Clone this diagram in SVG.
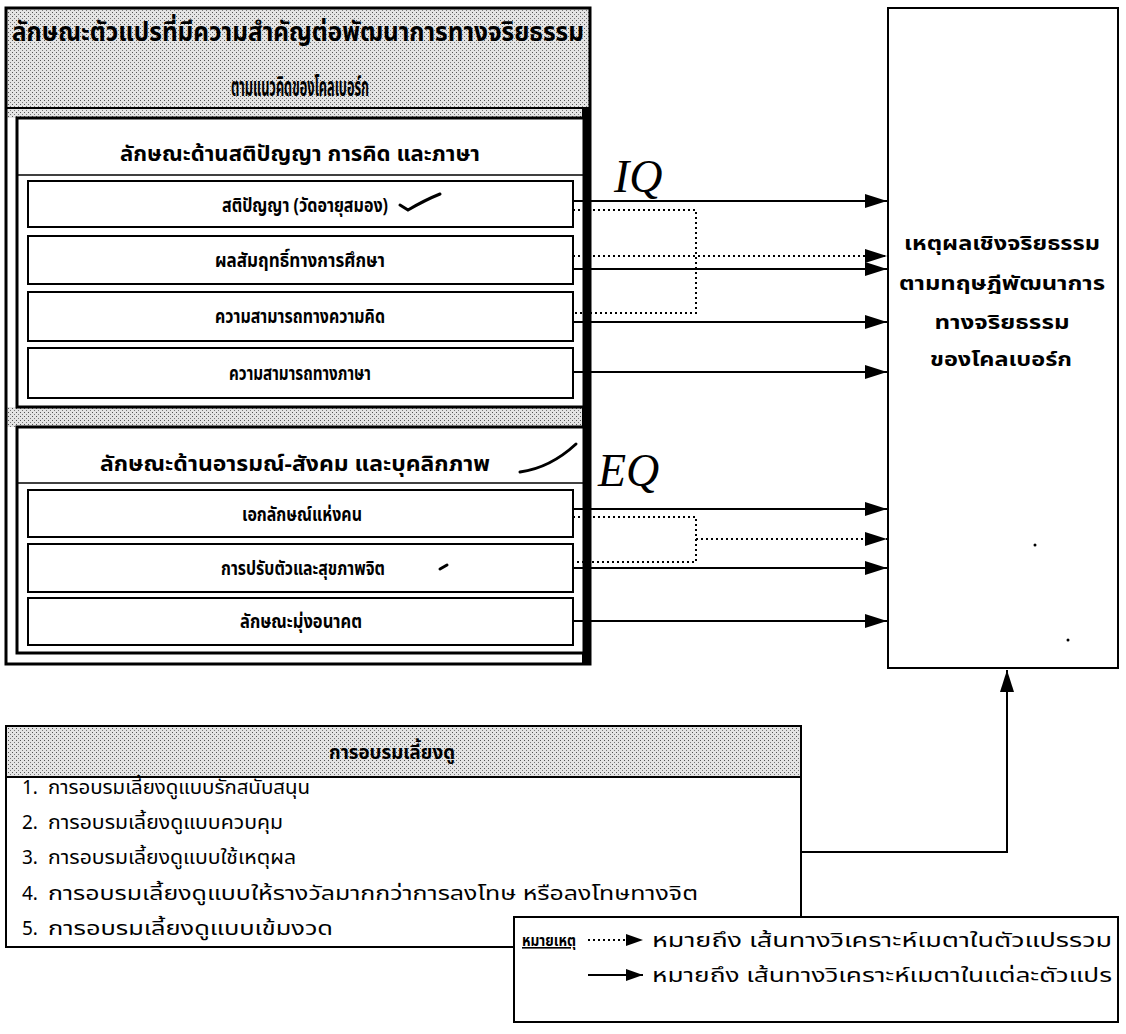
<svg xmlns="http://www.w3.org/2000/svg" width="1126" height="1034" viewBox="0 0 1126 1034">
<defs>
<pattern id="dots" width="4" height="4" patternUnits="userSpaceOnUse">
<rect width="4" height="4" fill="#e4e4e4"/>
<rect x="0" y="0" width="1" height="1" fill="#555"/>
<rect x="2" y="2" width="1" height="1" fill="#777"/>
</pattern>
<marker id="arr" markerWidth="22" markerHeight="14" refX="22" refY="7" orient="auto" markerUnits="userSpaceOnUse">
<path d="M0,0 L22,7 L0,14 Z" fill="#000"/>
</marker>
<marker id="arrs" markerWidth="17" markerHeight="12" refX="17" refY="6" orient="auto" markerUnits="userSpaceOnUse">
<path d="M0,0 L17,6 L0,12 Z" fill="#000"/>
</marker>
<style>
text{font-family:"Noto Sans Thai","Tlwg Typo","Garuda","Loma","Noto Sans",sans-serif;fill:#000;}
.t{font-weight:bold;text-anchor:middle;}
.s{font-weight:bold;text-anchor:middle;font-size:19px;}
.box{fill:#fff;stroke:#000;stroke-width:2;}
.sec{fill:#fff;stroke:#000;stroke-width:3;}
.sol{stroke:#000;stroke-width:2;fill:none;}
.dot{stroke:#000;stroke-width:2;fill:none;stroke-dasharray:2 3;}
.hand{font-family:"Liberation Serif",serif;font-style:italic;font-size:46px;}
.ink{stroke:#000;stroke-width:3;fill:none;stroke-linecap:round;}
.item{font-size:19px;}
.r{font-weight:bold;text-anchor:middle;font-size:20px;}
</style>
</defs>
<rect width="1126" height="1034" fill="#fff"/>

<g id="variables-frame">
<rect x="6" y="8" width="584" height="100" fill="url(#dots)"/>
<rect x="6" y="108" width="584" height="10" fill="url(#dots)"/>
<rect x="6" y="407" width="584" height="20" fill="url(#dots)"/>
<rect x="6" y="8" width="584" height="656" fill="none" stroke="#000" stroke-width="3"/>
<line x1="6" y1="108" x2="590" y2="108" stroke="#000" stroke-width="2"/>
<line x1="586" y1="108" x2="586" y2="664" stroke="#000" stroke-width="8"/>
<text class="t" x="298" y="41" font-size="26" textLength="572" lengthAdjust="spacingAndGlyphs">ลักษณะตัวแปรที่มีความสำคัญต่อพัฒนาการทางจริยธรรม</text>
<text class="t" x="300" y="96" font-size="26" textLength="138" lengthAdjust="spacingAndGlyphs">ตามแนวคิดของโคลเบอร์ก</text>
</g>

<g id="iq-group">
<rect class="sec" x="17" y="118" width="567" height="289"/>
<line x1="17" y1="175" x2="584" y2="175" stroke="#000" stroke-width="1.5"/>
<text class="t" x="300" y="161" font-size="22" textLength="360" lengthAdjust="spacingAndGlyphs">ลักษณะด้านสติปัญญา การคิด และภาษา</text>
</g>
<g id="iq1"><rect class="box" x="28" y="181" width="545" height="46"/><text class="s" x="305" y="212" textLength="166" lengthAdjust="spacingAndGlyphs">สติปัญญา (วัดอายุสมอง)</text></g>
<g id="iq2"><rect class="box" x="28" y="236" width="545" height="48"/><text class="s" x="300" y="267" textLength="170" lengthAdjust="spacingAndGlyphs">ผลสัมฤทธิ์ทางการศึกษา</text></g>
<g id="iq3"><rect class="box" x="28" y="292" width="545" height="49"/><text class="s" x="300" y="323" textLength="170" lengthAdjust="spacingAndGlyphs">ความสามารถทางความคิด</text></g>
<g id="iq4"><rect class="box" x="28" y="348" width="545" height="50"/><text class="s" x="300" y="380" textLength="142" lengthAdjust="spacingAndGlyphs">ความสามารถทางภาษา</text></g>

<g id="eq-group">
<rect class="sec" x="17" y="427" width="567" height="226"/>
<line x1="17" y1="483" x2="584" y2="483" stroke="#000" stroke-width="1.5"/>
<text class="t" x="295" y="471" font-size="22" textLength="390" lengthAdjust="spacingAndGlyphs">ลักษณะด้านอารมณ์-สังคม และบุคลิกภาพ</text>
</g>
<g id="eq1"><rect class="box" x="28" y="490" width="545" height="47"/><text class="s" x="302" y="521" textLength="120" lengthAdjust="spacingAndGlyphs">เอกลักษณ์แห่งคน</text></g>
<g id="eq2"><rect class="box" x="28" y="544" width="545" height="48"/><text class="s" x="303" y="575" textLength="164" lengthAdjust="spacingAndGlyphs">การปรับตัวและสุขภาพจิต</text></g>
<g id="eq3"><rect class="box" x="28" y="598" width="545" height="47"/><text class="s" x="301" y="628" textLength="122" lengthAdjust="spacingAndGlyphs">ลักษณะมุ่งอนาคต</text></g>

<g id="moral-reasoning">
<rect x="888" y="8" width="230" height="660" fill="#fff" stroke="#000" stroke-width="2"/>
<text class="r" x="1002" y="250" textLength="196" lengthAdjust="spacingAndGlyphs">เหตุผลเชิงจริยธรรม</text>
<text class="r" x="1002" y="290" textLength="206" lengthAdjust="spacingAndGlyphs">ตามทฤษฎีพัฒนาการ</text>
<text class="r" x="1002" y="329" textLength="135" lengthAdjust="spacingAndGlyphs">ทางจริยธรรม</text>
<text class="r" x="1001" y="366" textLength="142" lengthAdjust="spacingAndGlyphs">ของโคลเบอร์ก</text>
<circle cx="1035" cy="545" r="1.5" fill="#000"/>
<circle cx="1068" cy="640" r="1.5" fill="#000"/>
</g>

<g id="parenting">
<rect x="6" y="726" width="795" height="221" fill="#fff" stroke="#000" stroke-width="2"/>
<rect x="7" y="727" width="793" height="50" fill="url(#dots)"/>
<line x1="6" y1="777" x2="801" y2="777" stroke="#000" stroke-width="2"/>
<text class="t" x="392" y="759" font-size="20" textLength="126" lengthAdjust="spacingAndGlyphs">การอบรมเลี้ยงดู</text>
<text class="item" x="22" y="794">1.</text><text class="item" x="48" y="794" textLength="262" lengthAdjust="spacingAndGlyphs">การอบรมเลี้ยงดูแบบรักสนับสนุน</text>
<text class="item" x="22" y="829">2.</text><text class="item" x="48" y="829" textLength="235" lengthAdjust="spacingAndGlyphs">การอบรมเลี้ยงดูแบบควบคุม</text>
<text class="item" x="22" y="864">3.</text><text class="item" x="48" y="864" textLength="248" lengthAdjust="spacingAndGlyphs">การอบรมเลี้ยงดูแบบใช้เหตุผล</text>
<text class="item" x="22" y="900">4.</text><text class="item" x="48" y="900" textLength="650" lengthAdjust="spacingAndGlyphs">การอบรมเลี้ยงดูแบบให้รางวัลมากกว่าการลงโทษ หรือลงโทษทางจิต</text>
<text class="item" x="22" y="935">5.</text><text class="item" x="48" y="935" textLength="285" lengthAdjust="spacingAndGlyphs">การอบรมเลี้ยงดูแบบเข้มงวด</text>
</g>

<g id="connectors">
<line class="sol" x1="573" y1="201" x2="887" y2="201" marker-end="url(#arr)"/>
<polyline class="dot" points="573,210 696,210 696,313 573,313"/>
<line class="dot" x1="573" y1="256" x2="887" y2="256" marker-end="url(#arr)"/>
<line class="sol" x1="573" y1="269" x2="887" y2="269" marker-end="url(#arr)"/>
<line class="sol" x1="573" y1="322" x2="887" y2="322" marker-end="url(#arr)"/>
<line class="sol" x1="573" y1="372" x2="887" y2="372" marker-end="url(#arr)"/>
<line class="sol" x1="573" y1="509" x2="887" y2="509" marker-end="url(#arr)"/>
<polyline class="dot" points="573,517 696,517 696,562 573,562"/>
<line class="dot" x1="696" y1="539" x2="887" y2="539" marker-end="url(#arr)"/>
<line class="sol" x1="573" y1="568" x2="887" y2="568" marker-end="url(#arr)"/>
<line class="sol" x1="573" y1="621" x2="887" y2="621" marker-end="url(#arr)"/>
<polyline class="sol" points="801,852 1007,852 1007,670" marker-end="url(#arr)"/>
</g>

<g id="legend">
<rect x="514" y="917" width="604" height="105" fill="#fff" stroke="#000" stroke-width="2"/>
<text x="522" y="946" font-size="16" font-weight="bold" text-decoration="underline" textLength="54" lengthAdjust="spacingAndGlyphs">หมายเหตุ</text>
<line class="dot" x1="588" y1="940" x2="643" y2="940" marker-end="url(#arrs)"/>
<text x="652" y="947" font-size="19" textLength="460" lengthAdjust="spacingAndGlyphs">หมายถึง เส้นทางวิเคราะห์เมตาในตัวแปรรวม</text>
<line class="sol" x1="588" y1="975" x2="643" y2="975" marker-end="url(#arrs)"/>
<text x="652" y="982" font-size="19" textLength="460" lengthAdjust="spacingAndGlyphs">หมายถึง เส้นทางวิเคราะห์เมตาในแต่ละตัวแปร</text>
</g>

<g id="annotations">
<text class="hand" x="614" y="192">IQ</text>
<text class="hand" x="598" y="486">EQ</text>
<path class="ink" d="M400,205 L408,210 Q425,200 440,194"/>
<path class="ink" d="M520,472 Q550,468 576,444"/>
<path class="ink" stroke-width="2" d="M440,569 L447,565"/>
</g>
</svg>
